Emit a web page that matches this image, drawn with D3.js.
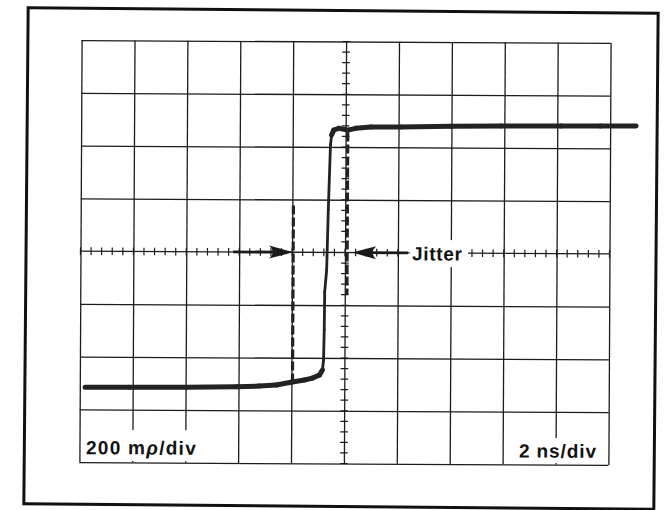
<!DOCTYPE html>
<html><head><meta charset="utf-8">
<script src="https://cdn.jsdelivr.net/npm/d3@7"></script>
<style>html,body{margin:0;padding:0;background:#fff}svg{display:block}</style>
</head><body>
<svg id="c" width="667" height="510"></svg>
<script>
// ---- data ----
const timeGridNs = [0,2,4,6,8,10,12,14,16,18,20];            // 2 ns/div
const rhoGrid = [-0.8,-0.6,-0.4,-0.2,0.2,0.4,0.6,0.8];        // 200 mrho/div (0 drawn as centre line)
const traceNs  = [0.2,1.87,4.03,5.92,6.79,7.43,8.03,8.49,8.79,9.06,9.17,9.21,9.23,9.24,9.31,9.36,9.43,9.47,9.55,9.74,10.08,10.38,10.95,12.08,13.97,15.86,18.13,19.64,20.98];
const traceRho = [-0.516,-0.515,-0.514,-0.511,-0.508,-0.504,-0.492,-0.484,-0.477,-0.465,-0.446,-0.408,-0.294,-0.150,-0.066,0.161,0.408,0.445,0.464,0.471,0.464,0.471,0.476,0.477,0.481,0.483,0.484,0.485,0.485];
const jitterNs = [8.04, 10.08];
const jitterFromRho = [-0.492, -0.16];
const jitterToRho = [0.177, 0.455];
const arrowTailNs = [5.77, 12.38];
const arrowTipNs = [8.04, 10.27];
const centreGapNs = [12.45, 14.65];
const labelTexts = ["200 m", "ρ", "/div", "2 ns/div", "Jitter"];

// ---- scales ----
const x = d3.scaleLinear().domain([0,20]).range([80.5,609.5]);
const y = d3.scaleLinear().domain([-0.8,0.8]).range([463.5,41.5]);
const ink = "#1c1c1c";
const svg = d3.select("#c");

// outer frame
svg.append("rect").attr("x",26).attr("y",10.5).attr("width",630).attr("height",496)
  .attr("fill","none").attr("stroke","#111").attr("stroke-width",3)
  .attr("transform","rotate(0.5,341,258)");

const g = svg.append("g").attr("transform","rotate(0.3,345,252.5)");

// vertical grid
g.append("g").attr("transform",`translate(0,${y(0.8)})`)
  .call(d3.axisBottom(x).tickValues(timeGridNs).tickSize(y(-0.8)-y(0.8)).tickFormat(""))
  .call(s=>s.select(".domain").remove())
  .selectAll("line").attr("stroke",ink).attr("stroke-width",1.3);
// horizontal grid
g.append("g").attr("transform",`translate(${x(0)},0)`)
  .call(d3.axisRight(y).tickValues(rhoGrid).tickSize(x(20)-x(0)).tickFormat(""))
  .call(s=>s.select(".domain").remove())
  .selectAll("line").attr("stroke",ink).attr("stroke-width",1.3);

// centre horizontal line with gap
[[0,centreGapNs[0]],[centreGapNs[1],20]].forEach(([a,b])=>{
  g.append("line").attr("x1",x(a)).attr("x2",x(b)).attr("y1",y(0)).attr("y2",y(0))
   .attr("stroke",ink).attr("stroke-width",1.3);
});
// minor ticks on centre lines
const minorNs = d3.range(0,20.001,0.4).filter(t=>t<centreGapNs[0]-0.1||t>centreGapNs[1]+0.1);
g.append("g").selectAll("line").data(minorNs).join("line")
  .attr("x1",d=>x(d)).attr("x2",d=>x(d)).attr("y1",y(0)-3.8).attr("y2",y(0)+3.8)
  .attr("stroke",ink).attr("stroke-width",1.2);
const minorRho = d3.range(-0.8,0.8001,0.04);
g.append("g").selectAll("line").data(minorRho).join("line")
  .attr("y1",d=>y(d)).attr("y2",d=>y(d)).attr("x1",x(10)-3.8).attr("x2",x(10)+3.8)
  .attr("stroke",ink).attr("stroke-width",1.2);

// white boxes behind labels
g.append("rect").attr("x",84).attr("y",431).attr("width",118).attr("height",31).attr("fill","#fff");
g.append("rect").attr("x",514).attr("y",437).attr("width",88).attr("height",25).attr("fill","#fff");
g.append("rect").attr("x",x(centreGapNs[0])+1).attr("y",y(0)-13).attr("width",x(centreGapNs[1])-x(centreGapNs[0])-2).attr("height",27).attr("fill","#fff");

// trace
const pts = traceNs.map((t,i)=>[x(t),y(traceRho[i])]);
for(let i=0;i<pts.length-1;i++){
  const [a,b]=[pts[i],pts[i+1]];
  const steep = Math.abs(b[1]-a[1]) > 3*Math.abs(b[0]-a[0]);
  g.append("line").attr("x1",a[0]).attr("y1",a[1]).attr("x2",b[0]).attr("y2",b[1])
   .attr("stroke","#222").attr("stroke-width",steep?2.8:5).attr("stroke-linecap","round");
}

// jitter dashed markers
g.append("g").selectAll("line").data(jitterNs).join("line")
  .attr("x1",d=>x(d)).attr("x2",d=>x(d))
  .attr("y1",(d,i)=>y(jitterToRho[i])).attr("y2",(d,i)=>y(jitterFromRho[i]))
  .attr("stroke","#222").attr("stroke-width",3.2).attr("stroke-dasharray","9,3");

// arrows
arrowTailNs.forEach((tail,i)=>{
  const tip = arrowTipNs[i], dir = Math.sign(tip-tail);
  const tx = x(tip), ty = y(0), L = 24, H = 6.5;
  g.append("line").attr("x1",x(tail)).attr("x2",tx-dir*12).attr("y1",ty).attr("y2",ty)
   .attr("stroke","#1a1a1a").attr("stroke-width",2.8);
  g.append("path").attr("d",`M${tx},${ty} L${tx-dir*L},${ty-H} Q${tx-dir*(L-7)},${ty} ${tx-dir*L},${ty+H} Z`)
   .attr("fill","#1a1a1a");
});

// labels
const font = "'Liberation Sans', Arial, sans-serif";
const t1 = g.append("text").attr("x",87).attr("y",455.5).attr("font-family",font).attr("font-weight","bold")
  .attr("font-size",19).attr("letter-spacing",1.3).attr("fill","#111");
t1.append("tspan").text(labelTexts[0]);
t1.append("tspan").attr("font-style","italic").text(labelTexts[1]);
t1.append("tspan").text(labelTexts[2]);
g.append("text").attr("x",520).attr("y",456.5).attr("font-family",font).attr("font-weight","bold")
  .attr("font-size",19).attr("letter-spacing",0.9).attr("fill","#111").text(labelTexts[3]);
g.append("text").attr("x",412).attr("y",260).attr("font-family",font).attr("font-weight","bold")
  .attr("font-size",19).attr("letter-spacing",0.7).attr("fill","#111").text(labelTexts[4]);
</script>
</body></html>
